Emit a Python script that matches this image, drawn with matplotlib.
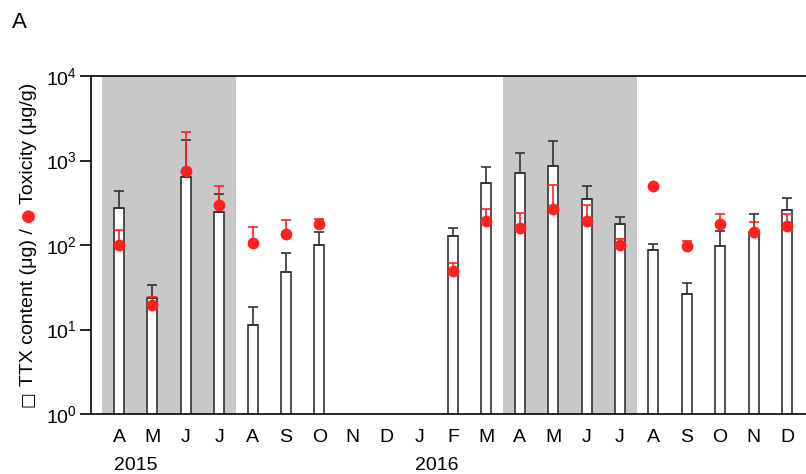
import numpy as np
import matplotlib
matplotlib.use('Agg')
import matplotlib.pyplot as plt

plt.rcParams['font.family'] = ['Liberation Sans', 'DejaVu Sans']
plt.rcParams['mathtext.default'] = 'regular'

nan = np.nan
months = ['A', 'M', 'J', 'J', 'A', 'S', 'O', 'N', 'D', 'J',
          'F', 'M', 'A', 'M', 'J', 'J', 'A', 'S', 'O', 'N', 'D']
years = ['2015', '2016']
# TTX content (ug), mean and upper SD
ttx = [272, 23.4, 632, 246, 11.3, 48, 99, nan, nan, nan,
       128, 537, 717, 861, 353, 179, 86.5, 26.5, 96.6, 142, 257]
ttx_sd = [168, 9.9, 1118, 155, 7, 33, 42, nan, nan, nan,
          32, 308, 510, 856, 142, 34, 17.5, 8.7, 51, 89, 100]
# toxicity (ug/g), mean and upper SD
tox = [100, 19.5, 751, 300, 106, 134, 177, nan, nan, nan,
       49, 192, 158, 267, 194, 100, 495, 98, 177, 144, 166]
tox_sd = [50, 4.5, 1406, 199, 56, 62, 28, nan, nan, nan,
          13, 77, 83, 250, 106, 18, 0, 14, 56, 45, 67]
# spawning season shading (month index ranges)
shade = [(0, 3), (12, 15)]

W, H = 806, 474
fig = plt.figure(figsize=(W / 100, H / 100), dpi=100)
ax = fig.add_axes([91 / W, 1 - 414 / H, 1 - 91 / W, (414 - 76) / H])

x = np.arange(len(months))
for a, b in shade:
    ax.axvspan(a - 0.5, b + 0.5, color='#c8c8c8', lw=0, zorder=0)

ax.bar(x, ttx, width=0.3, color='white', edgecolor='#333333', lw=1.2, zorder=2)
ax.errorbar(x, ttx, yerr=[np.zeros(len(x)), ttx_sd], fmt='none', ecolor='#333333',
            elinewidth=1.2, capsize=3.3, capthick=1.2, zorder=3)
ax.errorbar(x, tox, yerr=[np.zeros(len(x)), tox_sd], fmt='none', ecolor='#ff2020',
            elinewidth=1.2, capsize=3.3, capthick=1.2, zorder=4)
ax.plot(x, tox, 'o', color='#ff2020', ms=8.5, mec='none', zorder=5)

ax.set_yscale('log')
ax.set_ylim(1, 1e4)
ax.set_xlim(-0.84, 20.57)
ax.set_yticks([1, 10, 100, 1000, 10000])
ax.yaxis.set_minor_locator(matplotlib.ticker.NullLocator())
ax.set_xticks(x)
ax.set_xticklabels(months, fontsize=14)
ax.tick_params(axis='x', length=0, pad=11)
ax.tick_params(axis='y', length=8, width=1.2, labelsize=14, pad=2)
ax.spines['right'].set_visible(False)
for s in ['left', 'top', 'bottom']:
    ax.spines[s].set_linewidth(1.2)

yoff = -51 / 338
ax.text(0.5, yoff, years[0], transform=ax.get_xaxis_transform(), ha='center', va='center', fontsize=14)
ax.text(9.5, yoff, years[1], transform=ax.get_xaxis_transform(), ha='center', va='center', fontsize=14)

fig.text(12 / W, 1 - 23 / H, 'A', fontsize=16, va='center', ha='left')

# y label in pieces so the dot can be red
fig.canvas.draw()
r = fig.canvas.get_renderer()
ypos = 407
parts = [('□', 'black', 'DejaVu Sans', 12),
         (' TTX content (μg) / ', 'black', 'Liberation Sans', 14),
         ('●', '#ff2020', 'DejaVu Sans', 12),
         (' Toxicity (μg/g)', 'black', 'Liberation Sans', 14)]
for s, c, fam, fs in parts:
    t = fig.text(33 / W, 1 - ypos / H, s, rotation=90, ha='left', va='baseline',
                 rotation_mode='anchor', fontsize=fs, color=c,
                 family=[fam, 'DejaVu Sans'])
    bb = t.get_window_extent(r)
    ypos -= bb.height

fig.savefig('out.png', dpi=100)
